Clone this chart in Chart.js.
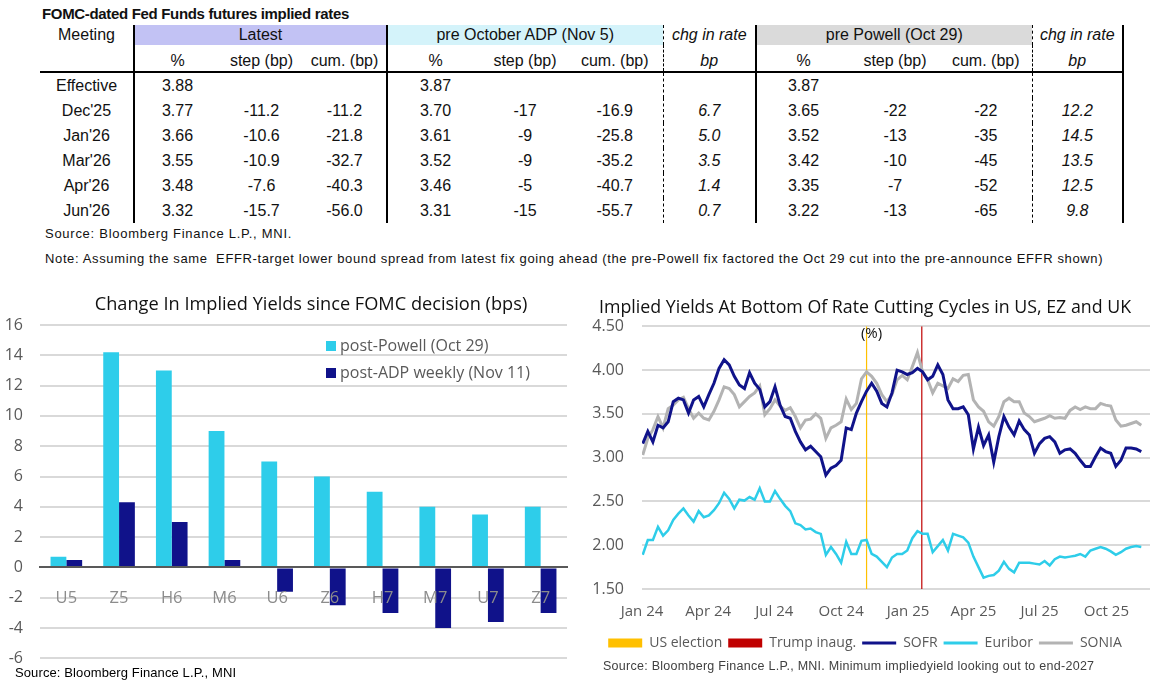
<!DOCTYPE html>
<html>
<head>
<meta charset="utf-8">
<script src="https://cdn.jsdelivr.net/npm/chart.js@4.4.1/dist/chart.umd.min.js"></script>
<style>
  body { margin: 0; background: #fff; width: 1159px; height: 685px; position: relative; overflow: hidden;
         font-family: "Liberation Sans", Arial, sans-serif; color: #111; }
  .txt { position: absolute; white-space: nowrap; }
  #tblTitle { left: 42px; top: 5px; font-size: 15px; font-weight: bold; }
  #tblSource { left: 45px; top: 226px; font-size: 13px; }
  #tblNote { left: 45px; top: 251px; font-size: 13px; }
  #barSource { left: 15px; top: 665px; font-size: 13px; color: #000; }
  #lineSource { left: 603px; top: 659px; font-size: 12.5px; color: #404040; }
  table { position: absolute; left: 40px; top: 25px; border-collapse: collapse; table-layout: fixed; font-size: 16px; }
  td { padding: 0; text-align: center; white-space: nowrap; }
  tr.h1 td { height: 20px; }
  tr.h2 td { height: 25px; border-bottom: 2px solid #000; vertical-align: bottom; padding-bottom: 1px; }
  tr.d td { height: 25px; }
  .bl { border-left: 2px solid #000; }
  .dl { border-left: 1px dashed #000; }
  .br { border-right: 2px solid #000; }
  .it { font-style: italic; }
  #barWrap { position: absolute; left: 0; top: 290px; width: 580px; height: 395px; }
  #lineWrap { position: absolute; left: 580px; top: 290px; width: 579px; height: 395px; }
</style>
</head>
<body>
<div id="tblTitle" class="txt">FOMC-dated Fed Funds futures implied rates</div>
<table id="tbl"></table>
<div id="tblSource" class="txt">Source: Bloomberg Finance L.P., MNI.</div>
<div id="tblNote" class="txt">Note: Assuming the same&nbsp; EFFR-target lower bound spread from latest fix going ahead (the pre-Powell fix factored the Oct 29 cut into the pre-announce EFFR shown)</div>
<div id="barWrap"><canvas id="bar" width="580" height="395"></canvas></div>
<div id="lineWrap"><canvas id="line" width="579" height="395"></canvas></div>
<div id="barSource" class="txt">Source: Bloomberg Finance L.P., MNI</div>
<div id="lineSource" class="txt">Source: Bloomberg Finance L.P., MNI. Minimum impliedyield looking out to end-2027</div>
<script>
// ---- table data
var meetings = ['Effective', "Dec'25", "Jan'26", "Mar'26", "Apr'26", "Jun'26"];
var latestPct = [3.88, 3.77, 3.66, 3.55, 3.48, 3.32];
var latestStep = [null, -11.2, -10.6, -10.9, -7.6, -15.7];
var latestCum = [null, -11.2, -21.8, -32.7, -40.3, -56.0];
var adpPct = [3.87, 3.70, 3.61, 3.52, 3.46, 3.31];
var adpStep = [null, -17, -9, -9, -5, -15];
var adpCum = [null, -16.9, -25.8, -35.2, -40.7, -55.7];
var adpChg = [null, 6.7, 5.0, 3.5, 1.4, 0.7];
var powellPct = [3.87, 3.65, 3.52, 3.42, 3.35, 3.22];
var powellStep = [null, -22, -13, -10, -7, -13];
var powellCum = [null, -22, -35, -45, -52, -65];
var powellChg = [null, 12.2, 14.5, 13.5, 12.5, 9.8];

// ---- bar chart data
var barCats = ['U5', 'Z5', 'H6', 'M6', 'U6', 'Z6', 'H7', 'M7', 'U7', 'Z7'];
var postPowell = [0.7, 14.2, 13.0, 9.0, 7.0, 6.0, 5.0, 4.0, 3.5, 4.0];
var postAdp = [0.5, 4.3, 3.0, 0.5, -1.6, -2.5, -3.0, -4.0, -3.6, -3.0];

// ---- line chart data (x = days since 1 Jan 2024, weekly readings)
var days = [1, 8, 15, 22, 29, 36, 43, 50, 57, 64, 71, 78, 85, 92, 99, 106, 113, 120, 127, 134, 141, 148, 155, 162,
  169, 176, 183, 190, 197, 204, 211, 218, 225, 232, 239, 246, 253, 260, 267, 274, 281, 288, 295, 302, 309, 316, 323, 330, 337,
  344, 351, 358, 365, 372, 379, 386, 393, 400, 407, 414, 421, 428, 435, 442, 449, 456, 463, 470, 477, 484, 491, 498, 505, 512, 519,
  526, 533, 540, 547, 554, 561, 568, 575, 582, 589, 596, 603, 610, 617, 624, 631, 638, 645, 652, 659, 666, 673, 680, 687];
var sofr = [3.16, 3.30, 3.18, 3.37, 3.34, 3.41, 3.64, 3.68, 3.66, 3.51, 3.66, 3.70, 3.58, 3.72, 3.85, 4.02, 4.12, 4.06, 3.93, 3.83, 3.79, 3.97, 3.85, 3.78,
  3.58, 3.64, 3.81, 3.60, 3.47, 3.45, 3.30, 3.18, 3.09, 3.13, 3.07, 3.01, 2.80, 2.88, 2.91, 2.97, 3.34, 3.32, 3.51, 3.64, 3.76, 3.85, 3.76, 3.62, 3.58,
  3.74, 4.00, 3.98, 3.95, 3.97, 4.02, 3.98, 3.89, 3.93, 4.06, 3.95, 3.66, 3.56, 3.56, 3.58, 3.49, 3.10, 3.35, 3.14, 3.26, 2.95, 3.24, 3.47, 3.35, 3.26, 3.42,
  3.32, 3.26, 3.05, 3.16, 3.22, 3.24, 3.18, 3.05, 3.09, 3.10, 3.05, 2.97, 2.90, 2.90, 3.01, 3.11, 3.07, 3.05, 2.90, 2.97, 3.11, 3.11, 3.10, 3.07];
var euribor = [1.89, 2.06, 2.06, 2.21, 2.11, 2.17, 2.29, 2.36, 2.42, 2.34, 2.27, 2.39, 2.32, 2.34, 2.40, 2.48, 2.60, 2.53, 2.42, 2.52, 2.51, 2.55, 2.52, 2.65,
  2.50, 2.50, 2.62, 2.53, 2.45, 2.39, 2.25, 2.23, 2.18, 2.19, 2.15, 2.13, 1.89, 1.98, 1.90, 1.80, 2.04, 1.90, 1.90, 2.05, 2.06, 1.90, 1.87, 1.81, 1.75,
  1.86, 1.90, 1.90, 1.94, 2.08, 2.16, 2.13, 2.13, 1.92, 1.99, 2.06, 1.94, 2.13, 2.11, 2.09, 2.03, 1.87, 1.75, 1.63, 1.65, 1.66, 1.71, 1.81, 1.73, 1.69, 1.80,
  1.80, 1.80, 1.79, 1.78, 1.82, 1.77, 1.84, 1.87, 1.86, 1.87, 1.88, 1.90, 1.87, 1.94, 1.96, 1.98, 1.96, 1.93, 1.89, 1.92, 1.96, 1.98, 1.99, 1.98];
var sonia = [3.03, 3.22, 3.32, 3.47, 3.34, 3.56, 3.60, 3.66, 3.69, 3.56, 3.45, 3.51, 3.45, 3.43, 3.53, 3.66, 3.81, 3.79, 3.72, 3.58, 3.64, 3.70, 3.74, 3.82,
  3.49, 3.56, 3.66, 3.59, 3.54, 3.57, 3.47, 3.34, 3.43, 3.44, 3.50, 3.45, 3.22, 3.34, 3.37, 3.41, 3.67, 3.55, 3.62, 3.90, 3.98, 3.93, 3.85, 3.72, 3.64,
  3.72, 3.89, 3.94, 3.89, 4.04, 4.20, 3.98, 3.89, 3.74, 3.85, 3.82, 3.79, 3.90, 3.87, 3.94, 3.95, 3.66, 3.58, 3.53, 3.41, 3.36, 3.47, 3.64, 3.68, 3.64, 3.64,
  3.51, 3.47, 3.41, 3.43, 3.45, 3.48, 3.45, 3.46, 3.45, 3.54, 3.58, 3.55, 3.58, 3.56, 3.56, 3.62, 3.60, 3.59, 3.43, 3.36, 3.37, 3.39, 3.41, 3.37];
var quarterDays = [0, 91, 182, 274, 366, 456, 547, 639];
var quarterLabels = ['Jan 24', 'Apr 24', 'Jul 24', 'Oct 24', 'Jan 25', 'Apr 25', 'Jul 25', 'Oct 25'];
var electionDay = 309;
var inaugDay = 385;

// ---- table
var cols = [
  {v: latestPct, d: 2, c: 'bl'}, {v: latestStep, d: 1}, {v: latestCum, d: 1},
  {v: adpPct, d: 2, c: 'bl'}, {v: adpStep, d: 0}, {v: adpCum, d: 1},
  {v: adpChg, d: 1, c: 'dl it'},
  {v: powellPct, d: 2, c: 'bl'}, {v: powellStep, d: 0}, {v: powellCum, d: 0},
  {v: powellChg, d: 1, c: 'dl it br'}
];
var widths = [94, 86, 83, 84, 96, 84, 96, 93, 94, 90, 92, 91];
var html = '<colgroup>' + widths.map(function (w) { return '<col style="width:' + w + 'px">'; }).join('') + '</colgroup>';
html += '<tr class="h1"><td>Meeting</td>' +
  '<td colspan="3" class="bl" style="background:#c2c2f4">Latest</td>' +
  '<td colspan="3" class="bl" style="background:#d4f3fa">pre October ADP (Nov 5)</td>' +
  '<td class="dl it">chg in rate</td>' +
  '<td colspan="3" class="bl" style="background:#dadada">pre Powell (Oct 29)</td>' +
  '<td class="dl it br">chg in rate</td></tr>';
html += '<tr class="h2"><td></td><td class="bl">%</td><td>step (bp)</td><td>cum. (bp)</td>' +
  '<td class="bl">%</td><td>step (bp)</td><td>cum. (bp)</td><td class="dl it">bp</td>' +
  '<td class="bl">%</td><td>step (bp)</td><td>cum. (bp)</td><td class="dl it br">bp</td></tr>';
meetings.forEach(function (m, r) {
  html += '<tr class="d"><td>' + m + '</td>';
  cols.forEach(function (col) {
    var val = col.v[r];
    html += '<td class="' + (col.c || '') + '">' + (val === null ? '' : val.toFixed(col.d)) + '</td>';
  });
  html += '</tr>';
});
document.getElementById('tbl').innerHTML = html;

// stretch a text line to the width it has in the picture
function fit(id, target) {
  var el = document.getElementById(id);
  var w = el.getBoundingClientRect().width;
  var n = el.textContent.length;
  el.style.letterSpacing = ((target - w) / n).toFixed(2) + 'px';
}
fit('tblTitle', 307);
fit('tblSource', 247);
fit('tblNote', 1058);
fit('barSource', 221);
fit('lineSource', 491);

// ---- charts
Chart.defaults.font.family = '"Open Sans", sans-serif';
Chart.defaults.animation = false;

// title centred at x=311 and legend placed inside the plot, as in the picture
var barExtras = {
  id: 'barExtras',
  afterDraw: function (chart) {
    var ctx = chart.ctx;
    var a = chart.chartArea;
    ctx.save();
    ctx.fillStyle = '#111';
    ctx.font = '18.2px "Open Sans"';
    ctx.textAlign = 'center';
    ctx.textBaseline = 'middle';
    ctx.fillText('Change In Implied Yields since FOMC decision (bps)', 311, 15);
    ctx.font = '16px "Open Sans"';
    ctx.textAlign = 'left';
    chart.data.datasets.forEach(function (ds, i) {
      var y = a.top + 21 + i * 27;
      ctx.fillStyle = ds.backgroundColor;
      ctx.fillRect(a.left + 286, y - 5, 10, 10);
      ctx.fillStyle = '#595959';
      ctx.fillText(ds.label, a.left + 300, y);
    });
    ctx.restore();
  }
};

new Chart(document.getElementById('bar'), {
  type: 'bar',
  data: {
    labels: barCats,
    datasets: [
      {label: 'post-Powell (Oct 29)', data: postPowell, backgroundColor: '#2ecdea'},
      {label: 'post-ADP weekly (Nov 11)', data: postAdp, backgroundColor: '#10128a'}
    ]
  },
  options: {
    responsive: false,
    layout: {padding: {left: 0, right: 13, top: 35, bottom: 25}},
    categoryPercentage: 0.6,
    barPercentage: 1.0,
    plugins: {
      legend: {display: false},
      tooltip: {enabled: false}
    },
    scales: {
      x: {
        position: {y: 0},
        grid: {display: false, drawTicks: false},
        border: {display: true, color: '#595959', width: 2, z: 1},
        ticks: {color: '#8c8c8c', font: {size: 16.5}, padding: 21, z: 1}
      },
      y: {
        min: -6, max: 16,
        afterFit: function (s) { s.width = 40; },
        grid: {color: '#d9d9d9', lineWidth: 2, drawTicks: false},
        border: {display: false},
        ticks: {stepSize: 2, color: '#595959', font: {size: 16}, padding: 17}
      }
    }
  },
  plugins: [barExtras]
});

function pts(vals) {
  return vals.map(function (v, i) { return {x: days[i], y: v}; });
}

var pctLabel = {
  id: 'pctLabel',
  afterDraw: function (chart) {
    var ctx = chart.ctx;
    ctx.save();
    ctx.font = '15px "Open Sans"';
    ctx.fillStyle = '#111';
    ctx.textAlign = 'center';
    ctx.textBaseline = 'middle';
    ctx.fillText('(%)', chart.scales.x.getPixelForValue(electionDay) + 5, chart.chartArea.top + 7);
    ctx.restore();
  }
};

new Chart(document.getElementById('line'), {
  type: 'line',
  data: {
    datasets: [
      {label: 'US election', legendBox: true, data: [{x: electionDay, y: 1.5}, {x: electionDay, y: 4.5}],
        borderColor: '#ffc000', borderWidth: 1.2, order: 3},
      {label: 'Trump inaug.', legendBox: true, data: [{x: inaugDay, y: 1.5}, {x: inaugDay, y: 4.5}],
        borderColor: '#c00000', borderWidth: 1.2, order: 3},
      {label: 'SOFR', data: pts(sofr), borderColor: '#10138a', borderWidth: 3, order: 0},
      {label: 'Euribor', data: pts(euribor), borderColor: '#2ecde9', borderWidth: 2.5, order: 1},
      {label: 'SONIA', data: pts(sonia), borderColor: '#b3b3b3', borderWidth: 3, order: 2}
    ]
  },
  options: {
    responsive: false,
    layout: {padding: {left: 0, right: 9, top: 0, bottom: 25}},
    elements: {point: {radius: 0}, line: {tension: 0}},
    plugins: {
      tooltip: {enabled: false},
      title: {display: true, text: 'Implied Yields At Bottom Of Rate Cutting Cycles in US, EZ and UK', color: '#111',
        font: {size: 17.8, weight: 'normal'}, padding: {top: 7, bottom: 8}},
      legend: {
        position: 'bottom',
        labels: {
          usePointStyle: true, pointStyleWidth: 34, boxHeight: 9, padding: 6,
          color: '#595959', font: {size: 14},
          generateLabels: function (chart) {
            return chart.data.datasets.map(function (ds, i) {
              return {text: ds.label, fillStyle: ds.borderColor, strokeStyle: ds.borderColor,
                lineWidth: ds.legendBox ? 0 : 3, pointStyle: ds.legendBox ? 'rect' : 'line',
                datasetIndex: i, hidden: false, fontColor: '#595959'};
            });
          }
        }
      }
    },
    scales: {
      x: {
        type: 'linear', min: 0, max: 699,
        afterBuildTicks: function (axis) { axis.ticks = quarterDays.map(function (d) { return {value: d}; }); },
        afterFit: function (s) { s.height = 41; },
        grid: {display: false, drawTicks: false},
        border: {display: false},
        ticks: {callback: function (v, i) { return quarterLabels[i]; }, autoSkip: false, maxRotation: 0,
          color: '#595959', font: {size: 15}, padding: 14}
      },
      y: {
        min: 1.5, max: 4.5,
        afterFit: function (s) { s.width = 62; },
        grid: {color: '#d9d9d9', lineWidth: 2, drawTicks: false},
        border: {display: false},
        ticks: {stepSize: 0.5, callback: function (v) { return v.toFixed(2); }, color: '#595959', font: {size: 16}, padding: 18}
      }
    }
  },
  plugins: [pctLabel]
});
</script>
</body>
</html>
